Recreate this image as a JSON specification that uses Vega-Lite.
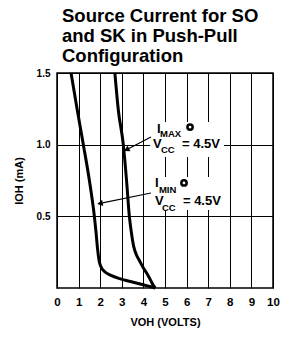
{
  "$schema": "https://vega.github.io/schema/vega-lite/v6.json",
  "width": 216,
  "height": 215,
  "autosize": {"type": "none"},
  "padding": {"left": 57, "top": 73, "right": 9, "bottom": 54},
  "background": "white",
  "title": {
    "text": ["Source Current for SO", "and SK in Push-Pull", "Configuration"],
    "anchor": "start",
    "frame": "group",
    "font": "Liberation Sans",
    "fontSize": 18.5,
    "fontWeight": "bold",
    "lineHeight": 20,
    "offset": 2,
    "dx": 5,
    "color": "black"
  },
  "config": {
    "view": {"stroke": "black", "strokeWidth": 1.5},
    "axis": {
      "labelFont": "Liberation Sans",
      "labelFontWeight": "bold",
      "labelColor": "black",
      "titleFont": "Liberation Sans",
      "titleFontWeight": "bold",
      "titleColor": "black",
      "ticks": false,
      "domain": false,
      "grid": true,
      "gridColor": "black",
      "gridOpacity": 1,
      "gridWidth": 1
    }
  },
  "datasets": {
    "curves": [
      {"series": "max", "V": 2.68, "I": 1.5},
      {"series": "max", "V": 2.84, "I": 1.24},
      {"series": "max", "V": 3.07, "I": 1.0},
      {"series": "max", "V": 3.22, "I": 0.75},
      {"series": "max", "V": 3.35, "I": 0.5},
      {"series": "max", "V": 3.45, "I": 0.38},
      {"series": "max", "V": 3.55, "I": 0.29},
      {"series": "max", "V": 3.68, "I": 0.23},
      {"series": "max", "V": 3.82, "I": 0.19},
      {"series": "max", "V": 4.0, "I": 0.14},
      {"series": "max", "V": 4.17, "I": 0.1},
      {"series": "max", "V": 4.35, "I": 0.05},
      {"series": "max", "V": 4.45, "I": 0.02},
      {"series": "max", "V": 4.55, "I": 0.0},
      {"series": "min", "V": 0.65, "I": 1.5},
      {"series": "min", "V": 0.94, "I": 1.24},
      {"series": "min", "V": 1.22, "I": 1.0},
      {"series": "min", "V": 1.5, "I": 0.75},
      {"series": "min", "V": 1.73, "I": 0.5},
      {"series": "min", "V": 1.8, "I": 0.4},
      {"series": "min", "V": 1.88, "I": 0.27},
      {"series": "min", "V": 1.95, "I": 0.19},
      {"series": "min", "V": 2.03, "I": 0.15},
      {"series": "min", "V": 2.2, "I": 0.115},
      {"series": "min", "V": 2.5, "I": 0.088},
      {"series": "min", "V": 2.9, "I": 0.065},
      {"series": "min", "V": 3.4, "I": 0.045},
      {"series": "min", "V": 3.95, "I": 0.024},
      {"series": "min", "V": 4.3, "I": 0.01},
      {"series": "min", "V": 4.55, "I": 0.0}
    ],
    "masks": [
      {"x": 4.31, "x2": 7.73, "y": 0.914, "y2": 1.158},
      {"x": 4.31, "x2": 7.64, "y": 0.544, "y2": 0.774}
    ],
    "arrows": [
      {"arrow": "max", "x": 4.35, "y": 1.053, "x2": 3.22, "y2": 0.965},
      {"arrow": "min", "x": 4.35, "y": 0.663, "x2": 1.99, "y2": 0.59}
    ],
    "circles": [
      {"x": 6.16, "y": 1.123},
      {"x": 5.88, "y": 0.733}
    ],
    "labels": [
      {"kind": "main", "x": 4.63, "y": 1.081, "text": "I"},
      {"kind": "main", "x": 4.44, "y": 0.977, "text": "V"},
      {"kind": "main", "x": 5.79, "y": 0.977, "text": "= 4.5V"},
      {"kind": "main", "x": 4.54, "y": 0.705, "text": "I"},
      {"kind": "main", "x": 4.54, "y": 0.579, "text": "V"},
      {"kind": "main", "x": 5.83, "y": 0.579, "text": "= 4.5V"},
      {"kind": "sub", "x": 4.77, "y": 1.053, "text": "MAX"},
      {"kind": "sub", "x": 4.81, "y": 0.942, "text": "CC"},
      {"kind": "sub", "x": 4.72, "y": 0.663, "text": "MIN"},
      {"kind": "sub", "x": 4.86, "y": 0.537, "text": "CC"}
    ]
  },
  "layer": [
    {
      "data": {"name": "curves"},
      "mark": {"type": "line", "color": "black", "strokeWidth": 3, "interpolate": "monotone"},
      "encoding": {
        "x": {
          "field": "V", "type": "quantitative",
          "scale": {"domain": [0, 10], "nice": false, "zero": false},
          "axis": {
            "values": [0, 1, 2, 3, 4, 5, 6, 7, 8, 9, 10],
            "tickCount": 11,
            "labelOverlap": false,
            "labelSeparation": 0,
            "labelBound": false,
            "labelFlush": false,
            "labelFontSize": 11.5,
            "labelPadding": 8,
            "title": "VOH (VOLTS)",
            "titleFontSize": 11,
            "titlePadding": 9
          }
        },
        "y": {
          "field": "I", "type": "quantitative",
          "scale": {"domain": [0, 1.5], "nice": false},
          "axis": {
            "values": [0.5, 1.0, 1.5],
            "format": ".1f",
            "labelOverlap": false,
            "labelFontSize": 10,
            "labelPadding": 7,
            "title": "IOH (mA)",
            "titleFontSize": 11,
            "titlePadding": 12
          }
        },
        "detail": {"field": "series"}
      }
    },
    {
      "data": {"name": "masks"},
      "mark": {"type": "rect", "fill": "white"},
      "encoding": {
        "x": {"field": "x", "type": "quantitative"},
        "x2": {"field": "x2"},
        "y": {"field": "y", "type": "quantitative"},
        "y2": {"field": "y2"}
      }
    },
    {
      "data": {"name": "arrows"},
      "mark": {"type": "rule", "color": "black", "strokeWidth": 1.2},
      "encoding": {
        "x": {"field": "x", "type": "quantitative"},
        "y": {"field": "y", "type": "quantitative"},
        "x2": {"field": "x2"},
        "y2": {"field": "y2"}
      }
    },
    {
      "data": {"name": "arrows"},
      "transform": [{"filter": "datum.arrow === 'max'"}],
      "mark": {"type": "point", "shape": "triangle-up", "filled": true, "color": "black", "size": 40, "angle": 242.6, "opacity": 1},
      "encoding": {
        "x": {"field": "x2", "type": "quantitative"},
        "y": {"field": "y2", "type": "quantitative"}
      }
    },
    {
      "data": {"name": "arrows"},
      "transform": [{"filter": "datum.arrow === 'min'"}],
      "mark": {"type": "point", "shape": "triangle-up", "filled": true, "color": "black", "size": 40, "angle": 258.5, "opacity": 1},
      "encoding": {
        "x": {"field": "x2", "type": "quantitative"},
        "y": {"field": "y2", "type": "quantitative"}
      }
    },
    {
      "data": {"name": "circles"},
      "mark": {"type": "point", "shape": "circle", "filled": false, "fill": "white", "stroke": "black", "strokeWidth": 2.5, "size": 28, "opacity": 1},
      "encoding": {
        "x": {"field": "x", "type": "quantitative"},
        "y": {"field": "y", "type": "quantitative"}
      }
    },
    {
      "data": {"name": "labels"},
      "transform": [{"filter": "datum.kind === 'main'"}],
      "mark": {"type": "text", "align": "left", "baseline": "alphabetic", "font": "Liberation Sans", "fontWeight": "bold", "fontSize": 13, "color": "black"},
      "encoding": {
        "x": {"field": "x", "type": "quantitative"},
        "y": {"field": "y", "type": "quantitative"},
        "text": {"field": "text"}
      }
    },
    {
      "data": {"name": "labels"},
      "transform": [{"filter": "datum.kind === 'sub'"}],
      "mark": {"type": "text", "align": "left", "baseline": "alphabetic", "font": "Liberation Sans", "fontWeight": "bold", "fontSize": 9.5, "color": "black"},
      "encoding": {
        "x": {"field": "x", "type": "quantitative"},
        "y": {"field": "y", "type": "quantitative"},
        "text": {"field": "text"}
      }
    }
  ]
}
